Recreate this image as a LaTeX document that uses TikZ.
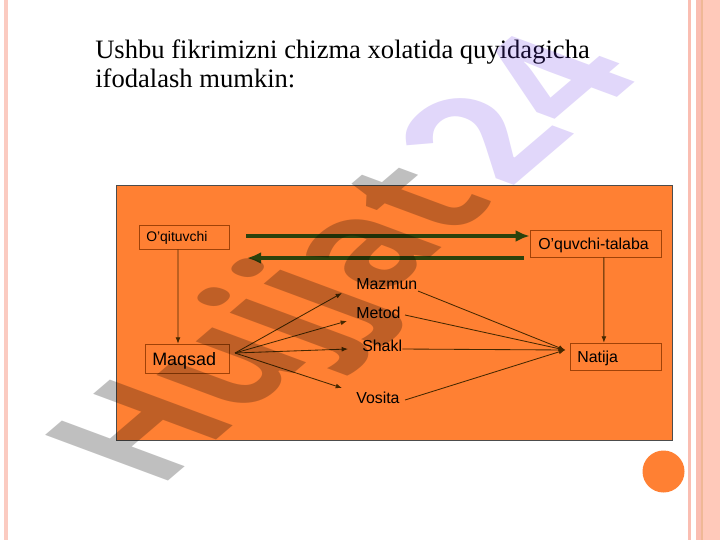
\documentclass[tikz,border=0pt]{standalone}
\usepackage{fontspec}
\setmainfont{Liberation Serif}
\setsansfont{Liberation Sans}
\newfontfamily\wmfont{Open Sans}
\usetikzlibrary{arrows.meta}
\usetikzlibrary{positioning}
\definecolor{mpink}{RGB}{255, 201, 186}
\definecolor{mstripe}{RGB}{250, 190, 178}
\definecolor{mtan}{RGB}{240, 184, 150}
\definecolor{morange}{RGB}{255, 128, 51}
\definecolor{mbrown}{RGB}{160, 66, 8}
\definecolor{mgreen}{RGB}{44, 66, 12}
\definecolor{mdark}{RGB}{70, 40, 0}
\definecolor{mviolet}{RGB}{105, 55, 230}
\tikzset{stepbox/.style = {draw=mbrown, line width=0.5pt, font=\sffamily, inner sep=0pt},
         word/.style = {font=\sffamily\fontsize{11.3}{13}\selectfont, inner sep=0pt, anchor=base west},
         thin arrow/.style = {draw=mdark, line width=0.6pt, -{Latex[length=4.5pt, width=3.5pt]}},
         plain line/.style = {draw=mdark, line width=0.6pt},
         thick arrow/.style = {draw=mgreen, line width=3pt, -{Latex[length=10pt, width=8.5pt]}}}

\begin{document}
\begin{tikzpicture}[x=0.025cm, y=-0.025cm]
      \useasboundingbox (0, 0) rectangle (720, 540);
      \fill [white] (0, 0) rectangle (720, 540);

      % side stripes
      \fill [mstripe!80!white] (3.5, 0) rectangle (7.5, 540);
      \fill [mstripe] (688, 0) rectangle (691, 540);
      \fill [mstripe] (696, 0) rectangle (701, 540);
      \fill [mtan] (701, 0) rectangle (703, 540);
      \fill [mpink] (703, 0) rectangle (720, 540);
      \fill [morange] (663.5, 471.5) circle (21);

      \draw [fill=morange, draw=gray!60!black, line width=0.6pt] (116, 185) rectangle (672, 440);

      \node [anchor=base west, inner sep=0pt, align=left,
             font=\fontsize{18.9}{20.5}\selectfont] (title) at (95, 87)
            {Ushbu fikrimizni chizma xolatida quyidagicha\\ifodalash mumkin:};

      % boxes
      \node [stepbox, minimum width=2.25cm, minimum height=0.6cm] (oqituvchi) at (184, 237) {};
      \node [stepbox, minimum width=3.275cm, minimum height=0.675cm] (oquvchi) at (595.5, 243.5) {};
      \node [stepbox, minimum width=2.1cm, minimum height=0.725cm] (maqsad) at (187, 358.5) {};
      \node [stepbox, minimum width=2.275cm, minimum height=0.675cm] (natija) at (615.5, 356.5) {};

      \node [word, font=\sffamily\fontsize{9.9}{12}\selectfont] (toqituvchi) at (146, 241) {O’qituvchi};
      \node [word] (toquvchi) at (538, 249) {O’quvchi-talaba};
      \node [word, font=\sffamily\fontsize{12.75}{15}\selectfont] (tmaqsad) at (152, 365) {Maqsad};
      \node [word] (tnatija) at (577, 362) {Natija};

      \node [word] (mazmun) at (356, 289) {Mazmun};
      \node [word] (metod) at (356, 318) {Metod};
      \node [word] (shakl) at (362, 351) {Shakl};
      \node [word] (vosita) at (356, 403) {Vosita};

      \coordinate (fromMaqsad) at (235, 353);
      \coordinate (toNatija) at (565, 350);
      \coordinate (toMazmun) at (342, 293);
      \coordinate (toMetod) at (347, 321);
      \coordinate (toShakl) at (348, 349);
      \coordinate (toVosita) at (342, 388);
      \coordinate (outMazmun) at (418, 291);
      \coordinate (outMetod) at (405, 315);
      \coordinate (outVosita) at (405, 400);
      \coordinate (topStart) at (246, 236);
      \coordinate (lowStart) at (524, 258);
      \coordinate (lowEnd) at (247, 258);

      \draw [thick arrow] (topStart) -- (topStart -| oquvchi.west);
      \draw [thick arrow] (lowStart) -- (lowEnd);

      \draw [thin arrow] ([xshift=-0.15cm]oqituvchi.south) -- ([xshift=-0.225cm]maqsad.north);
      \draw [thin arrow] ([xshift=0.21cm]oquvchi.south) -- ([xshift=-0.29cm]natija.north);

      \foreach \target in {toMazmun, toMetod, toShakl, toVosita}
        \draw [thin arrow] (fromMaqsad) -- (\target);
      \foreach \source in {outMazmun, outMetod, outVosita}
        \draw [thin arrow] (\source) -- (toNatija);
      \draw [plain line] (shakl.base east) ++(0, -2) -- (toNatija);

      % watermark
      \begin{scope}[shift={(158, 490)}, cm={0.787, 0.672, -1.224, 0.455, (0, 0)}]
        \node [transform shape, anchor=base west, inner sep=0pt, opacity=0.25,
               font=\wmfont\bfseries\fontsize{100}{100}\selectfont] (hujjat) at (0, 0) {Hujjat};
        \node [transform shape, anchor=base west, inner sep=0pt, opacity=0.2, text=mviolet, xscale=1.09,
               font=\wmfont\bfseries\fontsize{100}{100}\selectfont] (num) at ([xshift=10pt]hujjat.base east) {24};
      \end{scope}
    \end{tikzpicture}
\end{document}
